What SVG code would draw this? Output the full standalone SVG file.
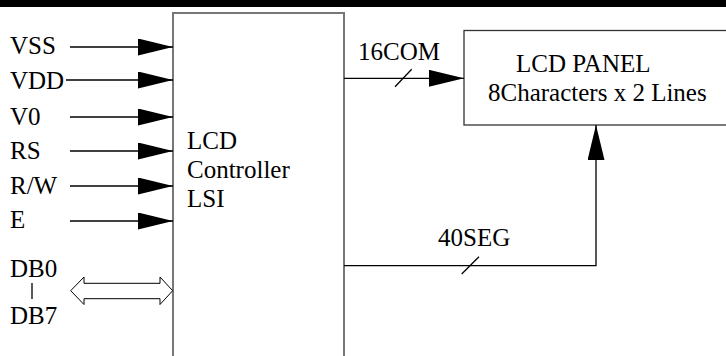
<svg xmlns="http://www.w3.org/2000/svg" width="726" height="356" viewBox="0 0 726 356">
<style>
text{font-size:25px;fill:#000}
.ln{stroke:#000;stroke-width:1.3;fill:none}
.box{stroke:#777;stroke-width:2;fill:#fff}
.ah{fill:#000;stroke:none}
</style>
<defs>
<marker id="arr" markerWidth="35" markerHeight="17" refX="35" refY="8.5" orient="auto" markerUnits="userSpaceOnUse">
<path d="M0,0 L35,8.5 L0,17 Z" class="ah"/>
</marker>
</defs>
<rect x="0" y="0" width="726" height="7" fill="#000"/>
<g font-family="'Liberation Serif', 'Times New Roman', 'DejaVu Serif', serif">
<g id="controller">
<rect x="173" y="13" width="171" height="360" class="box"/>
<text x="187" y="149">LCD</text>
<text x="187" y="178">Controller</text>
<text x="187" y="207">LSI</text>
</g>
<g id="panel">
<rect x="464" y="30.5" width="280" height="94.5" fill="#fff" stroke="#333" stroke-width="1.3"/>
<text x="516" y="72">LCD PANEL</text>
<text x="488" y="101">8Characters x 2 Lines</text>
</g>
<g id="inputs">
<text x="10" y="54">VSS</text>
<text x="10" y="89">VDD</text>
<text x="10" y="125">V0</text>
<text x="10" y="159">RS</text>
<text x="10" y="194">R/W</text>
<text x="10" y="228">E</text>
<text x="10" y="277">DB0</text>
<text x="10" y="324">DB7</text>
</g>
<g id="connectors">
<line x1="70" y1="47" x2="173" y2="47" class="ln" marker-end="url(#arr)"/>
<line x1="66" y1="80" x2="173" y2="80" class="ln" marker-end="url(#arr)"/>
<line x1="70" y1="117" x2="173" y2="117" class="ln" marker-end="url(#arr)"/>
<line x1="70" y1="151" x2="173" y2="151" class="ln" marker-end="url(#arr)"/>
<line x1="70" y1="186" x2="173" y2="186" class="ln" marker-end="url(#arr)"/>
<line x1="70" y1="221" x2="173" y2="221" class="ln" marker-end="url(#arr)"/>
<line x1="32" y1="283" x2="32" y2="299" class="ln"/>
<path d="M70.7,290.7 L84,277 L84,283.3 L160,283.3 L160,277 L172.7,290.7 L160,304.5 L160,298.7 L84,298.7 L84,304.5 Z" fill="#fff" stroke="#000" stroke-width="1"/>
<line x1="344" y1="78.3" x2="464" y2="78.3" class="ln" marker-end="url(#arr)"/>
<line x1="395" y1="86.7" x2="411.7" y2="69.3" class="ln"/>
<text x="358" y="60">16COM</text>
<polyline points="344,265.7 596,265.7 596,125" class="ln" marker-end="url(#arr)"/>
<line x1="461.7" y1="274" x2="479" y2="256.7" class="ln"/>
<text x="438" y="246">40SEG</text>
</g>
</g>
</svg>
